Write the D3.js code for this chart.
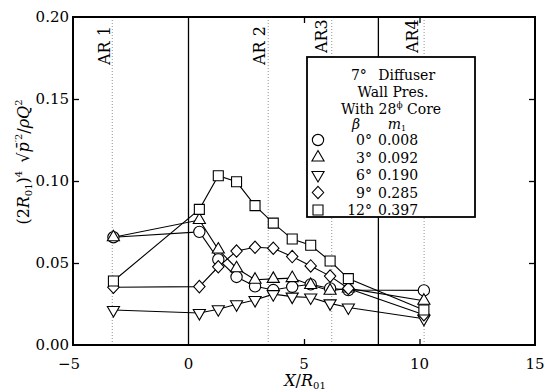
<!DOCTYPE html>
<html>
<head>
<meta charset="utf-8">
<script src="https://cdn.jsdelivr.net/npm/d3@7"></script>
<style>
  body { margin: 0; background: #fff; }
  svg { font-family: "DejaVu Serif", "Liberation Serif", serif; }
</style>
</head>
<body>
<svg id="chart" width="555" height="391"></svg>
<script>
// stations along the diffuser, X/R01
var xPos = [-3.25, 0.47, 1.29, 2.08, 2.88, 3.67, 4.49, 5.29, 6.13, 6.92, 10.19]

// wall pressure fluctuation, one array per swirl angle
var beta0  = [0.0657, 0.0690, 0.0522, 0.0415, 0.0358, 0.0335, 0.0355, 0.0370, 0.0345, 0.0335, 0.0333]
var beta3  = [0.0657, 0.0762, 0.0582, 0.0468, 0.0398, 0.0403, 0.0408, 0.0366, 0.0331, 0.0345, 0.0270]
var beta6  = [0.0213, 0.0195, 0.0218, 0.0248, 0.0274, 0.0310, 0.0295, 0.0290, 0.0254, 0.0229, 0.0160]
var beta9  = [0.0352, 0.0356, 0.0477, 0.0573, 0.0596, 0.0590, 0.0539, 0.0482, 0.0420, 0.0345, 0.0185]
var beta12 = [0.0390, 0.0827, 0.1032, 0.0995, 0.0850, 0.0743, 0.0646, 0.0608, 0.0512, 0.0405, 0.0213]

var betaLabels = ['0°', '3°', '6°', '9°', '12°']
var m1Labels = ['0.008', '0.092', '0.190', '0.285', '0.397']
var symbols = ['circle', 'up', 'down', 'diamond', 'square']

var xTicks = [-5, 0, 5, 10, 15]
var yTicks = [0, 0.05, 0.10, 0.15, 0.20]

// area ratio stations (dotted) and section joints (solid)
var arNames = ['AR 1', 'AR 2', 'AR3', 'AR4']
var arX = [-3.3, 3.45, 6.2, 10.2]
var joints = [0, 8.22]

var series = [beta0, beta3, beta6, beta9, beta12]

var svg = d3.select('#chart')
var pLeft = 73, pRight = 535, pTop = 17, pBottom = 345

var x = d3.scaleLinear().domain([-5, 15]).range([pLeft, pRight])
var y = d3.scaleLinear().domain([0, 0.20]).range([pBottom, pTop])

function markerPath(kind) {
  switch (kind) {
    case 'circle':
      return d3.symbol(d3.symbolCircle, 100)()
    case 'up':
      return d3.symbol(d3.symbolTriangle, 64)()
    case 'down':
      return d3.symbol(d3.symbolTriangle, 64)()
    case 'diamond':
      return 'M0,-6.2L5.7,0L0,6.2L-5.7,0Z'
    case 'square':
      return d3.symbol(d3.symbolSquare, 100)()
  }
}
function markerRot(kind) {
  return kind === 'down' ? ' rotate(180)' : ''
}

// dotted station lines
svg.append('g').selectAll('line')
  .data(arX).enter().append('line')
  .attr('x1', function (d) { return x(d) }).attr('x2', function (d) { return x(d) })
  .attr('y1', pTop).attr('y2', pBottom)
  .attr('stroke', '#777').attr('stroke-width', 0.8).attr('stroke-dasharray', '1,2')

svg.append('g').selectAll('line')
  .data(joints).enter().append('line')
  .attr('x1', function (d) { return x(d) }).attr('x2', function (d) { return x(d) })
  .attr('y1', pTop).attr('y2', pBottom)
  .attr('stroke', '#000').attr('stroke-width', 1.3)

// AR labels, rotated
var arBottom = [65, 65, 53, 53]
var arBase = [110, 265, 327, 418]
svg.append('g').selectAll('text')
  .data(arNames).enter().append('text')
  .attr('transform', function (d, i) { return 'translate(' + arBase[i] + ',' + arBottom[i] + ') rotate(-90)' })
  .attr('font-size', 16)
  .text(function (d) { return d })

// frame
svg.append('rect')
  .attr('x', pLeft).attr('y', pTop)
  .attr('width', pRight - pLeft).attr('height', pBottom - pTop)
  .attr('fill', 'none').attr('stroke', '#000').attr('stroke-width', 2)

// inward ticks on all four sides
var axB = d3.axisBottom(x).tickValues([5, 10]).tickSize(-6).tickFormat('')
var axT = d3.axisTop(x).tickValues([5, 10]).tickSize(-6).tickFormat('')
var axL = d3.axisLeft(y).tickValues([0.05, 0.10, 0.15]).tickSize(-6).tickFormat('')
var axR = d3.axisRight(y).tickValues([0.05, 0.10, 0.15]).tickSize(-6).tickFormat('')
;[[axB, 'translate(0,' + pBottom + ')'], [axT, 'translate(0,' + pTop + ')'],
  [axL, 'translate(' + pLeft + ',0)'], [axR, 'translate(' + pRight + ',0)']].forEach(function (a) {
  var g = svg.append('g').attr('transform', a[1]).call(a[0])
  g.select('.domain').remove()
  g.selectAll('line').attr('stroke', '#000').attr('stroke-width', 1.3)
})

// tick labels
svg.append('g').selectAll('text')
  .data(yTicks).enter().append('text')
  .attr('x', pLeft - 4).attr('y', function (d) { return y(d) + 5 })
  .attr('text-anchor', 'end').attr('font-size', 15)
  .text(function (d) { return d.toFixed(2) })

svg.append('g').selectAll('text')
  .data(xTicks).enter().append('text')
  .attr('x', function (d) { return x(d) - (d < 0 ? 4 : 0) }).attr('y', 369)
  .attr('text-anchor', 'middle').attr('font-size', 15)
  .text(function (d) { return d < 0 ? '\u2212' + (-d) : d })

// axis titles
var xl = svg.append('text').attr('x', 305).attr('y', 386)
  .attr('text-anchor', 'middle').attr('font-size', 16)
xl.append('tspan').attr('font-style', 'italic').text('X')
xl.append('tspan').text('/')
xl.append('tspan').attr('font-style', 'italic').text('R')
xl.append('tspan').attr('font-size', 10).attr('dy', 3).text('01')

var yl = svg.append('text')
  .attr('transform', 'translate(29,162) rotate(-90)')
  .attr('text-anchor', 'middle').attr('font-size', 16)
yl.append('tspan').text('(2')
yl.append('tspan').attr('font-style', 'italic').text('R')
yl.append('tspan').attr('font-size', 10).attr('dy', 3).text('01')
yl.append('tspan').attr('dy', -3).text(')')
yl.append('tspan').attr('font-size', 10).attr('dy', -7).text('4')
yl.append('tspan').attr('dy', 7).text('\u2002\u221A')
yl.append('tspan').attr('font-style', 'italic').text('p\u0304')
yl.append('tspan').attr('font-size', 10).attr('dy', -7).text('\u20322')
yl.append('tspan').attr('dy', 7).text('/')
yl.append('tspan').attr('font-style', 'italic').text('\u03C1Q')
yl.append('tspan').attr('font-size', 10).attr('dy', -7).text('2')

// series lines and markers
var line = d3.line()
  .x(function (d, i) { return x(xPos[i]) })
  .y(function (d) { return y(d) })

var plot = svg.append('g')
series.forEach(function (s, k) {
  plot.append('path').datum(s)
    .attr('d', line).attr('fill', 'none')
    .attr('stroke', '#000').attr('stroke-width', 1.1)
})
series.forEach(function (s, k) {
  plot.append('g').selectAll('path')
    .data(s).enter().append('path')
    .attr('d', markerPath(symbols[k]))
    .attr('transform', function (d, i) { return 'translate(' + x(xPos[i]) + ',' + y(d) + ')' + markerRot(symbols[k]) })
    .attr('fill', '#fff').attr('stroke', '#000').attr('stroke-width', 1.1)
})

// legend
var lg = svg.append('g')
lg.append('rect').attr('x', 307).attr('y', 57).attr('width', 168).attr('height', 160)
  .attr('fill', '#fff').attr('stroke', '#000').attr('stroke-width', 1.8)

var head = lg.append('g').attr('font-size', 14).attr('text-anchor', 'middle')
var h1 = head.append('text').attr('x', 393).attr('y', 80)
h1.append('tspan').text('7°\u2002 Diffuser')
head.append('text').attr('x', 393).attr('y', 97).text('Wall Pres.')
var h3 = head.append('text').attr('x', 391).attr('y', 114)
h3.append('tspan').text('With 28')
h3.append('tspan').attr('font-size', 9).attr('dy', -6).text('\u03D5')
h3.append('tspan').attr('dy', 6).text(' Core')
head.append('text').attr('x', 356).attr('y', 129).attr('font-style', 'italic').text('\u03B2')
var m = head.append('text').attr('x', 397).attr('y', 129).attr('font-style', 'italic')
m.append('tspan').text('m')
m.append('tspan').attr('font-size', 8).attr('dy', 2).attr('font-style', 'normal').text('1')

var rowY = d3.scaleLinear().domain([0, 4]).range([140, 210])
symbols.forEach(function (s, k) {
  lg.append('path').attr('d', markerPath(s))
    .attr('transform', 'translate(318,' + rowY(k) + ')' + markerRot(s))
    .attr('fill', '#fff').attr('stroke', '#000').attr('stroke-width', 1.1)
  lg.append('text').attr('x', 372).attr('y', rowY(k) + 5)
    .attr('text-anchor', 'end').attr('font-size', 14).text(betaLabels[k])
  lg.append('text').attr('x', 378).attr('y', rowY(k) + 5)
    .attr('font-size', 14).text(m1Labels[k])
})
</script>
</body>
</html>
